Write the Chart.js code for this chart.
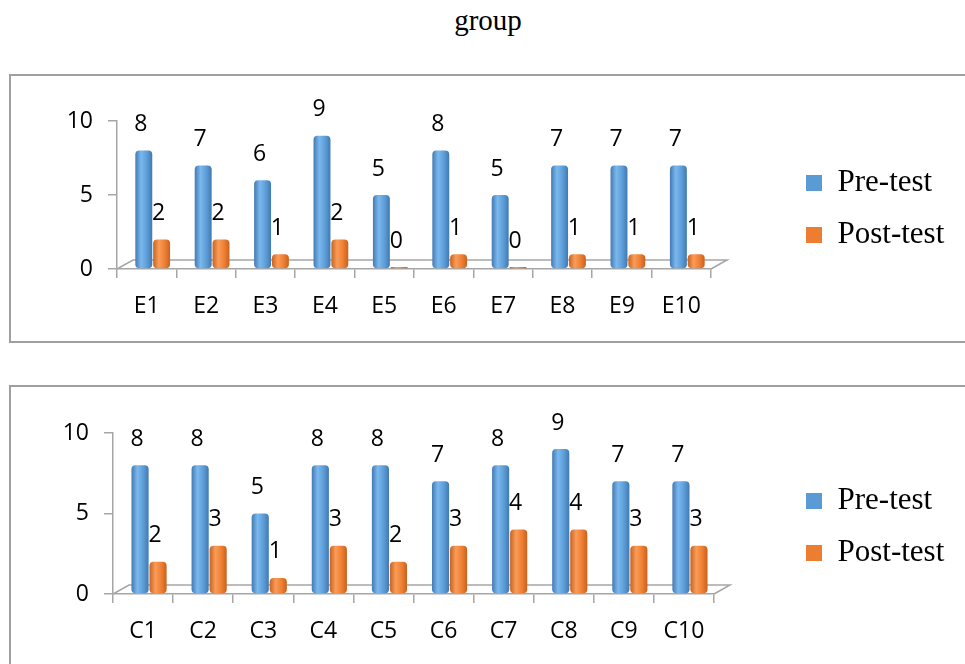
<!DOCTYPE html>
<html>
<head>
<meta charset="utf-8">
<script src="https://cdn.jsdelivr.net/npm/chart.js@4.4.1/dist/chart.umd.min.js"></script>
<style>
  html, body { margin: 0; padding: 0; background: #fff; }
  body { width: 965px; height: 664px; position: relative; overflow: hidden; }
  #title {
    position: absolute; left: 0; top: 4px; width: 976px; text-align: center;
    font: 29px "Liberation Serif", "Times New Roman", serif; color: #000;
  }
  .panel { position: absolute; left: 9px; width: 980px; border: 2px solid #a0a0a0; box-sizing: border-box; }
  canvas { position: absolute; left: 0; }
</style>
</head>
<body>
<div id="title">group</div>
<div class="panel" style="top:74px; height:269px;"></div>
<div class="panel" style="top:385px; height:300px;"></div>
<canvas id="expChart" width="965" height="267" style="top:75px;"></canvas>
<canvas id="ctrlChart" width="965" height="278" style="top:386px;"></canvas>
<script>
// scores per participant
const expLabels = ['E1', 'E2', 'E3', 'E4', 'E5', 'E6', 'E7', 'E8', 'E9', 'E10'];
const expPre = [8, 7, 6, 9, 5, 8, 5, 7, 7, 7];
const expPost = [2, 2, 1, 2, 0, 1, 0, 1, 1, 1];

const ctrlLabels = ['C1', 'C2', 'C3', 'C4', 'C5', 'C6', 'C7', 'C8', 'C9', 'C10'];
const ctrlPre = [8, 8, 5, 8, 8, 7, 8, 9, 7, 7];
const ctrlPost = [2, 3, 1, 3, 2, 3, 4, 4, 3, 3];

const seriesNames = ['Pre-test', 'Post-test'];
const yMin = 0, yMax = 10, yStep = 5;

const BLUE = { base: '#5b9bd5', dark: '#3f75ad', light: '#7ab8ee' };
const ORANGE = { base: '#ed7d31', dark: '#c45f1c', light: '#fa9c58' };

const CAT_PCT = 0.6;
const BAR_PCT = 0.95;
const DEPTH = 6;      // sideways shift of the bars for the 3-D look
const FLOOR = { dx: 16, dy: -9 };
const AXIS_GREY = '#a6a6a6';
const SANS = '"Open Sans", "DejaVu Sans", sans-serif';
const SERIF = '"Liberation Serif", "Times New Roman", serif';
const TEXT_SIZE = 23;

// horizontal shading so each bar reads like a cylinder
function cylinder(col) {
  return (c) => {
    const chart = c.chart;
    if (!chart.chartArea || c.type !== 'data') return col.base;
    const x = chart.scales.x;
    const n = chart.data.labels.length;
    const group = (x.width / n) * CAT_PCT;
    const slot = group / chart.data.datasets.length;
    const left = x.getPixelForValue(c.dataIndex) - group / 2 + slot * c.datasetIndex + DEPTH;
    const g = chart.ctx.createLinearGradient(left, 0, left + slot, 0);
    g.addColorStop(0, col.dark);
    g.addColorStop(0.35, col.light);
    g.addColorStop(0.7, col.base);
    g.addColorStop(1, col.dark);
    return g;
  };
}

// grey floor behind the bars
const floorPlugin = {
  id: 'floor',
  beforeDatasetsDraw(chart) {
    const { ctx } = chart;
    const x = chart.scales.x, y = chart.scales.y;
    const y0 = y.getPixelForValue(0);
    ctx.save();
    ctx.strokeStyle = AXIS_GREY;
    ctx.lineWidth = 1.5;
    ctx.beginPath();
    ctx.moveTo(x.left, y0);
    ctx.lineTo(x.left + FLOOR.dx, y0 + FLOOR.dy);
    ctx.lineTo(x.right + FLOOR.dx, y0 + FLOOR.dy);
    ctx.lineTo(x.right, y0);
    ctx.stroke();
    ctx.restore();
  }
};

// push the bars sideways into the floor depth
const depthPlugin = {
  id: 'depth',
  afterDatasetsUpdate(chart) {
    chart.data.datasets.forEach((ds, i) => {
      chart.getDatasetMeta(i).data.forEach(bar => { bar.x += DEPTH; });
    });
  }
};

// value written above every bar
const valueLabels = {
  id: 'valueLabels',
  afterDatasetsDraw(chart) {
    const { ctx } = chart;
    ctx.save();
    ctx.font = TEXT_SIZE + 'px ' + SANS;
    ctx.fillStyle = '#000';
    ctx.textAlign = 'center';
    ctx.textBaseline = 'middle';
    chart.data.datasets.forEach((ds, i) => {
      chart.getDatasetMeta(i).data.forEach((bar, j) => {
        ctx.fillText(String(ds.data[j]), bar.x - 3, bar.y - 26);
      });
    });
    ctx.restore();
  }
};

function makeChart(id, labels, pre, post, geo) {
  const canvas = document.getElementById(id);
  const legendPadding = 21;

  // fixed legend column on the right
  const legendPlace = {
    id: 'legendPlace',
    beforeInit(chart) {
      const fit = chart.legend.fit;
      chart.legend.fit = function () {
        fit.call(this);
        if (this.options.display) this.width = canvas.width - geo.right;
      };
    },
    afterLayout(chart) {
      const lg = chart.legend;
      lg.left = geo.legendBox - legendPadding;
      lg.right = canvas.width;
      lg.top = geo.legendRow - 15.5 - legendPadding;
      lg.bottom = canvas.height;
    }
  };

  return new Chart(canvas, {
    type: 'bar',
    data: {
      labels: labels,
      datasets: [
        { label: seriesNames[0], data: pre, backgroundColor: cylinder(BLUE) },
        { label: seriesNames[1], data: post, backgroundColor: cylinder(ORANGE) }
      ]
    },
    options: {
      responsive: false,
      animation: false,
      layout: { padding: { top: geo.top, left: 0, right: 0, bottom: 0 } },
      datasets: {
        bar: {
          categoryPercentage: CAT_PCT,
          barPercentage: BAR_PCT,
          borderWidth: 0,
          borderRadius: 4,
          borderSkipped: false,
          minBarLength: 2
        }
      },
      plugins: {
        legend: {
          position: 'right',
          align: 'start',
          labels: {
            boxWidth: 16,
            boxHeight: 16,
            padding: legendPadding,
            color: '#000',
            font: { family: SERIF, size: 31 },
            generateLabels(chart) {
              const items = Chart.defaults.plugins.legend.labels.generateLabels(chart);
              const cols = [BLUE.base, ORANGE.base];
              items.forEach((it, i) => { it.fillStyle = cols[i]; it.strokeStyle = cols[i]; it.lineWidth = 0; });
              return items;
            }
          }
        },
        tooltip: { enabled: false },
        title: { display: false }
      },
      scales: {
        x: {
          afterFit(scale) { scale.height = canvas.height - geo.bottom; },
          grid: {
            drawOnChartArea: false,
            drawTicks: true,
            tickLength: 9,
            offset: true,
            color: AXIS_GREY,
            lineWidth: 1.5
          },
          border: { display: true, color: AXIS_GREY, width: 1.5 },
          ticks: { color: '#000', font: { family: SANS, size: TEXT_SIZE }, padding: 15, maxRotation: 0 }
        },
        y: {
          min: yMin,
          max: yMax,
          afterFit(scale) { scale.width = geo.left; },
          grid: {
            drawOnChartArea: false,
            drawTicks: true,
            tickLength: 9,
            color: AXIS_GREY,
            lineWidth: 1.5
          },
          border: { display: true, color: AXIS_GREY, width: 1.5 },
          ticks: { stepSize: yStep, color: '#000', font: { family: SANS, size: TEXT_SIZE }, padding: 15 }
        }
      }
    },
    plugins: [legendPlace, floorPlugin, depthPlugin, valueLabels]
  });
}

makeChart('expChart', expLabels, expPre, expPost,
  { left: 117, right: 711, top: 46, bottom: 194, legendBox: 806, legendRow: 108 });
makeChart('ctrlChart', ctrlLabels, ctrlPre, ctrlPost,
  { left: 113, right: 714, top: 47, bottom: 208, legendBox: 806, legendRow: 115 });
</script>
</body>
</html>
